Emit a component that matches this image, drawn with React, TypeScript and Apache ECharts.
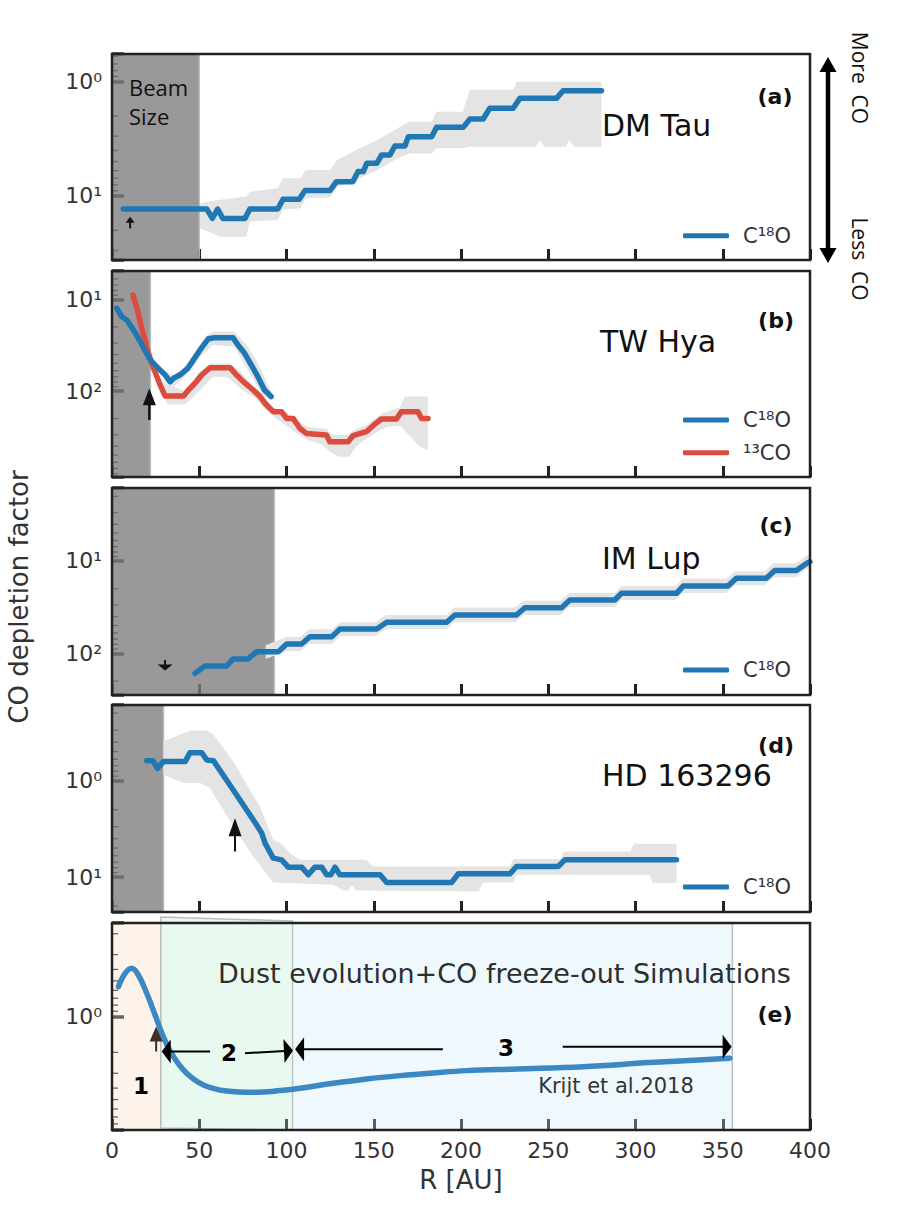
import React, { useEffect, useRef } from "react";
import * as echarts from "echarts";

// ---------------- data ----------------
const R_MIN = 0;
const R_MAX = 400;
const R_STEP = 50;

// (a) DM Tau  [R (AU), CO depletion factor]
const DMTAU_C18O = [[6.5,13.0],[54.3,13.0],[57.5,15.7],[60.5,13.0],[63.5,15.7],[76.2,15.7],[79,13.0],[95,13.0],[98,10.7],[107.3,10.7],[110.6,8.97],[124.9,8.97],[128.6,7.5],[138,7.5],[141,6.12],[144,6.12],[146,5.18],[151.7,5.18],[154.5,4.38],[159.3,4.38],[162.1,3.65],[167.9,3.65],[169.8,3.03],[183.2,3.03],[186,2.51],[201.3,2.51],[205.1,2.12],[212.7,2.12],[216.5,1.71],[229.9,1.71],[233.7,1.40],[254.7,1.40],[258.5,1.20],[280.5,1.20]];
const DMTAU_BAND_UP = [[50.5,11.6],[62,10.8],[77,10.1],[79,9.16],[95,8.57],[98,7.0],[108,7.0],[111,5.93],[125,5.93],[129,4.84],[140,3.96],[152,3.24],[162,2.65],[170,2.24],[183,2.24],[186,1.83],[201,1.83],[205,1.18],[230,1.18],[232,1.0],[280.5,1.0]];
const DMTAU_BAND_DN = [[50.5,19.2],[62,22.7],[77,22.7],[79,16.8],[95,16.2],[98,13.2],[108,12.8],[111,10.5],[125,10.3],[129,8.3],[140,7.24],[152,5.93],[162,4.84],[170,4.24],[183,4.24],[186,3.83],[201,3.83],[205,3.71],[243,3.71],[245,3.24],[248,3.71],[260,3.71],[262,3.24],[265,3.71],[280.5,3.71]];
const DMTAU_BEAM = 50;
const DMTAU_ARROW = [[10.4, 19.2, 10.4, 15.2]];

// (b) TW Hya
const TWHYA_C18O = [[2.7,12.5],[5.6,15.5],[8.5,16.8],[12.3,21.6],[16.2,29.0],[21.9,45.9],[26.6,56.6],[30.5,67.0],[33.3,79.1],[35.5,72],[38.8,67.0],[43.5,56.6],[47.3,44.0],[51.1,34.2],[55,27.1],[58.8,26.2],[69.3,26.2],[72.2,31.5],[76,38.8],[79.8,52.0],[83.6,69.8],[87.4,97.5],[91.2,115]];
const TWHYA_13CO = [[12,8.97],[14.3,12.5],[17.1,20.7],[20,34.2],[23.8,56.6],[27.6,86.1],[30.5,113.5],[41,113.5],[43.8,97.5],[47.6,82.4],[51.4,67.0],[56.2,55.7],[67.6,55.7],[71.4,67.0],[75.2,79.1],[80.9,97.5],[84.8,115],[87.6,136],[92.4,168],[97.1,168],[100,199],[103.8,199],[107.6,255],[111.4,290],[122.9,302],[124.8,357],[135.3,357],[138.1,307],[145.8,278],[149.6,239],[154.4,202],[163,202],[165.8,168],[175.4,168],[177.3,199],[181.1,199]];
const TWHYA_C18O_BAND_UP = [[30,60],[35,68],[40,58],[45,44],[50,33],[55,24],[58,22.5],[70,22.5],[74,27],[78,33],[82,44],[86,62],[91,100]];
const TWHYA_C18O_BAND_DN = [[30,82],[35,90],[40,75],[46,55],[52,40],[58,31.5],[70,33],[74,44],[78,60],[82,80],[86,110],[91,125]];
const TWHYA_13CO_BAND_UP = [[28,80],[42,100],[50,62],[56,50],[68,50],[74,62],[80,85],[86,105],[92,150],[100,170],[107,215],[112,245],[123,260],[126,300],[135,300],[140,260],[146,235],[150,205],[155,175],[165,150],[168,115],[181,115]];
const TWHYA_13CO_BAND_DN = [[28,100],[32,140],[42,140],[50,100],[58,70],[66,70],[74,95],[82,120],[88,160],[94,200],[100,240],[106,290],[112,340],[120,380],[125,460],[130,520],[136,520],[140,400],[146,330],[152,280],[158,245],[165,240],[170,300],[176,400],[181,440]];
const TWHYA_BEAM = 22;
const TWHYA_ARROW = [[21.4, 207, 21.4, 93.5]];

// (c) IM Lup
const IMLUP_C18O = [[47.6,165],[53.3,137],[65.7,137],[69.5,115],[78,115],[82.9,96],[95.3,96],[100.1,79.3],[108.6,79.3],[113.5,66.1],[125.9,66.1],[130.6,54.6],[151.7,54.6],[157.4,46.1],[191.8,46.1],[196.5,38.5],[231.8,38.5],[236.6,32.1],[257.6,32.1],[262.4,26.5],[288.1,26.5],[292,22.4],[323.5,22.4],[327.3,18.7],[353,18.7],[357.8,15.4],[375,15.4],[379.8,12.7],[392.2,12.7],[398.8,10.4],[400,10.2]];
const IMLUP_BAND_UP = [[88,82],[100,66],[108,66],[113,55],[126,55],[131,46],[151,46],[157,38.5],[192,38.5],[196,32],[231,32],[236,27],[257,27],[262,22.2],[288,22.2],[292,18.7],[323,18.7],[327,15.6],[352,15.6],[357,12.9],[374,12.9],[379,10.6],[392,10.6],[398,8.7],[400,8.6]];
const IMLUP_BAND_DN = [[88,115],[100,95],[108,95],[113,79],[126,79],[131,65],[151,65],[157,55],[192,55],[196,46],[231,46],[236,38.5],[257,38.5],[262,31.5],[288,31.5],[292,26.5],[323,26.5],[327,22.2],[352,22.2],[357,18.3],[374,18.3],[379,15],[392,15],[398,12.3],[400,12.2]];
const IMLUP_BEAM = 93;
const IMLUP_ARROW = [[30.4, 118, 30.4, 154]];

// (d) HD 163296
const HD_C18O = [[19.9,0.621],[23.4,0.621],[26,0.745],[29.5,0.635],[41.9,0.635],[44.7,0.513],[51.4,0.513],[54.3,0.611],[58.1,0.621],[69.5,1.25],[82.9,2.88],[85.8,3.5],[87.7,4.45],[92.4,6.35],[97.2,6.62],[101,7.89],[108.7,7.89],[112.5,9.46],[116.3,7.89],[120.2,7.89],[123,9.46],[125.4,9.46],[127.8,7.89],[130.6,9.46],[153.6,9.46],[157.4,11.4],[194.6,11.4],[198.4,9.25],[228,9.25],[231.8,7.76],[255.7,7.76],[259.5,6.62],[323.5,6.62]];
const HD_BAND_UP = [[29.5,0.394],[37,0.344],[44.7,0.303],[54.3,0.303],[58,0.33],[69.5,0.635],[75.2,0.944],[84.8,1.86],[92.4,4.11],[97.2,4.52],[101.9,5.65],[107.6,6.62],[145.8,6.62],[149.6,7.76],[228,7.76],[230,6.51],[257,6.51],[259,5.43],[297,5.43],[299,4.52],[323.5,4.52]];
const HD_BAND_DN = [[29.5,0.873],[41,1.06],[50.5,1.06],[56.2,1.2],[69.5,2.99],[80.9,6.12],[92.4,11.4],[126.8,12.0],[132.5,13.8],[135,13.8],[137.5,12.2],[140,13.8],[210,14.1],[212.7,11.4],[230,11.4],[231.8,9.46],[308,9.46],[310,11.5],[323.5,11.5]];
const HD_BEAM = 29.5;
const HD_ARROW = [[70.5, 5.43, 70.5, 2.45]];

// (e) simulation (Krijt et al. 2018)
const SIM_CURVE = [[3.7,0.558],[7.5,0.431],[11.3,0.391],[15.1,0.446],[19.9,0.635],[24.7,0.968],[29.4,1.47],[35.2,2.17],[42.8,3.0],[52.4,3.76],[65.7,4.23],[81,4.34],[96.3,4.2],[107.7,4.01],[126.8,3.64],[145.9,3.35],[165,3.14],[184,2.98],[203.2,2.85],[231.8,2.76],[270,2.64],[308,2.44],[354,2.24]];
const SIM_ZONES = [[0, 28], [28, 103.5], [103.5, 355.5]];
const SIM_UP_ARROW = [[25.3, 1.97, 25.3, 1.21]];
const SIM_ZONE_ARROWS = [[56.2,1.97,28.5,1.97],[76.2,2.03,103.7,1.93],[189.6,1.88,104.9,1.88],[258.3,1.79,355.1,1.79]];

// y ranges of the five panels (inverted log axes)
const Y_RANGES = [[0.573, 36.3], [4.91, 867], [1.62, 283], [0.1645, 23.0], [0.1625, 9.02]];
const MINOR_MANTISSAS = [2, 3, 4, 5, 6, 7, 8, 9];

// ---------------- layout / style ----------------
const LEFT = 112;
const WIDTH = 698;
const TOPS = [54, 271, 488, 705, 923];
const HEIGHTS = [206, 206, 207, 207, 207];
const BLUE = "#1f77b4";
const RED = "#dc4b3e";
const FONT = "DejaVu Sans";
const SUP: Record<number, string> = { 0: "\u2070", 1: "\u00b9", 2: "\u00b2", 3: "\u00b3" };
const ZONE_FILLS = ["rgba(248,215,185,0.3)", "rgba(178,238,205,0.3)", "rgba(202,232,248,0.3)"];

function minorValues(range: number[]) {
  const out: number[][] = [];
  const k0 = Math.floor(Math.log10(range[0]));
  const k1 = Math.ceil(Math.log10(range[1]));
  for (let k = k0; k <= k1; k++) {
    for (const m of MINOR_MANTISSAS) {
      const v = m * Math.pow(10, k);
      if (v > range[0] && v < range[1]) out.push([0, v]);
    }
  }
  return out;
}

function arrowChildren(p0: number[], p1: number[], L: number, W: number, lw: number, color: string) {
  const dx = p1[0] - p0[0];
  const dy = p1[1] - p0[1];
  const len = Math.hypot(dx, dy) || 1;
  const ux = dx / len, uy = dy / len;
  const bx = p1[0] - ux * L, by = p1[1] - uy * L;
  const nx = -uy, ny = ux;
  return [
    { type: "line", shape: { x1: p0[0], y1: p0[1], x2: bx + ux, y2: by + uy }, style: { stroke: color, lineWidth: lw } },
    {
      type: "polygon",
      shape: { points: [[p1[0], p1[1]], [bx + (nx * W) / 2, by + (ny * W) / 2], [bx - (nx * W) / 2, by - (ny * W) / 2]] },
      style: { fill: color },
    },
  ];
}

function arrowSeries(i: number, data: number[][], L: number, W: number, lw: number, color: string) {
  return {
    type: "custom", xAxisIndex: i, yAxisIndex: i, z: 4, silent: true, data,
    renderItem: (params: any, api: any) => {
      const p0 = api.coord([api.value(0), api.value(1)]);
      const p1 = api.coord([api.value(2), api.value(3)]);
      return { type: "group", children: arrowChildren(p0, p1, L, W, lw, color) };
    },
  };
}

function beamSeries(i: number, r: number) {
  return {
    type: "custom", xAxisIndex: i, yAxisIndex: i, z: 1, silent: true,
    data: [[r, Y_RANGES[i][0]]],
    renderItem: (params: any, api: any) => {
      const cs = params.coordSys;
      const p = api.coord([api.value(0), api.value(1)]);
      return {
        type: "group",
        children: [
          { type: "rect", shape: { x: cs.x, y: cs.y, width: p[0] - cs.x, height: cs.height }, style: { fill: "rgba(126,126,126,0.79)" } },
          { type: "line", shape: { x1: p[0], y1: cs.y, x2: p[0], y2: cs.y + cs.height }, style: { stroke: "rgba(185,185,185,0.9)", lineWidth: 1.5 } },
        ],
      };
    },
  };
}

function bandSeries(i: number, up: number[][], dn: number[][]) {
  return {
    type: "custom", xAxisIndex: i, yAxisIndex: i, z: 2, silent: true,
    data: [up[0]],
    renderItem: (params: any, api: any) => {
      const pts = up.map((p) => api.coord(p)).concat(dn.slice().reverse().map((p) => api.coord(p)));
      return { type: "polygon", shape: { points: pts }, style: { fill: "#e4e4e4" } };
    },
  };
}

function minorSeries(i: number) {
  return {
    type: "custom", xAxisIndex: i, yAxisIndex: i, z: 0, silent: true,
    data: minorValues(Y_RANGES[i]),
    renderItem: (params: any, api: any) => {
      const cs = params.coordSys;
      const p = api.coord([api.value(0), api.value(1)]);
      return { type: "line", shape: { x1: cs.x, y1: p[1], x2: cs.x + 6, y2: p[1] }, style: { stroke: "#333", lineWidth: 1.3 } };
    },
  };
}

function lineSeries(i: number, name: string, data: number[][], color: string, extra: any = {}) {
  return {
    type: "line", name, xAxisIndex: i, yAxisIndex: i, data, symbol: "none", z: 3, silent: true,
    lineStyle: { width: 5.5, color, cap: "round", join: "round" },
    itemStyle: { color },
    ...extra,
  };
}

function zoneSeries(i: number) {
  return {
    type: "custom", xAxisIndex: i, yAxisIndex: i, z: 1, silent: true, clip: false,
    data: SIM_ZONES.map((z) => [z[0], z[1], Y_RANGES[i][0]]),
    renderItem: (params: any, api: any) => {
      const cs = params.coordSys;
      const x0 = api.coord([api.value(0), api.value(2)])[0];
      const x1 = api.coord([api.value(1), api.value(2)])[0];
      const fill = ZONE_FILLS[params.dataIndex];
      const top = cs.y, bot = cs.y + cs.height;
      if (params.dataIndex === 1) {
        return {
          type: "polygon",
          shape: { points: [[x0, top - 6], [x1, top - 2], [x1, bot], [x0, bot - 2]] },
          style: { fill, stroke: "rgba(140,140,140,0.55)", lineWidth: 1.5 },
        };
      }
      const children: any[] = [{ type: "rect", shape: { x: x0, y: top, width: x1 - x0, height: cs.height }, style: { fill } }];
      if (params.dataIndex === 2) {
        children.push({ type: "line", shape: { x1, y1: top, x2: x1, y2: bot }, style: { stroke: "rgba(150,150,150,0.6)", lineWidth: 1.5 } });
      }
      return { type: "group", children };
    },
  };
}

function yLabel(v: number) {
  const l = Math.log10(v);
  const n = Math.round(l);
  if (Math.abs(l - n) > 1e-6) return "";
  return "10" + SUP[n];
}

function text(x: number, y: number, t: string, size: number, opts: any = {}) {
  return {
    type: "text", x, y, z: 100, rotation: opts.rotation || 0, silent: true,
    style: {
      text: t, fontSize: size, fontFamily: opts.family || FONT, fontWeight: opts.weight || "normal",
      fill: opts.fill || "#111", align: opts.align || "left", verticalAlign: "middle",
    },
  };
}

function buildOption() {
  const grids = TOPS.map((t, i) => ({ left: LEFT, top: t, width: WIDTH, height: HEIGHTS[i], show: false }));
  const xAxes = TOPS.map((t, i) => ({
    type: "value", gridIndex: i, min: R_MIN, max: R_MAX, interval: R_STEP,
    axisLine: { show: false }, splitLine: { show: false },
    axisTick: { inside: true, length: 11, lineStyle: { width: 3, color: "#222" } },
    axisLabel: { show: i === 4, fontSize: 22, fontFamily: FONT, color: "#333", margin: 9 },
  }));
  const yAxes = TOPS.map((t, i) => ({
    type: "log", logBase: 10, gridIndex: i, inverse: true, min: Y_RANGES[i][0], max: Y_RANGES[i][1],
    axisLine: { show: false }, splitLine: { show: false },
    axisTick: { inside: true, length: 12, lineStyle: { width: 3.5, color: "#333" } },
    axisLabel: { fontSize: 22, fontFamily: FONT, color: "#333", margin: 10, formatter: yLabel },
  }));

  const series: any[] = [];
  for (let i = 0; i < 5; i++) series.push(minorSeries(i));
  // (a)
  series.push(beamSeries(0, DMTAU_BEAM));
  series.push(bandSeries(0, DMTAU_BAND_UP, DMTAU_BAND_DN));
  series.push(lineSeries(0, "C\u00b9\u2078O", DMTAU_C18O, BLUE));
  series.push(arrowSeries(0, DMTAU_ARROW, 6, 9, 2, "#111"));
  // (b)
  series.push(beamSeries(1, TWHYA_BEAM));
  series.push(bandSeries(1, TWHYA_13CO_BAND_UP, TWHYA_13CO_BAND_DN));
  series.push(bandSeries(1, TWHYA_C18O_BAND_UP, TWHYA_C18O_BAND_DN));
  series.push(lineSeries(1, "\u00b9\u00b3CO", TWHYA_13CO, RED));
  series.push(lineSeries(1, "C\u00b9\u2078O", TWHYA_C18O, BLUE));
  series.push(arrowSeries(1, TWHYA_ARROW, 17, 13, 2.5, "#111"));
  // (c)
  series.push(beamSeries(2, IMLUP_BEAM));
  series.push(bandSeries(2, IMLUP_BAND_UP, IMLUP_BAND_DN));
  series.push(lineSeries(2, "C\u00b9\u2078O", IMLUP_C18O, BLUE));
  series.push(arrowSeries(2, IMLUP_ARROW, 6, 15, 2, "#111"));
  // (d)
  series.push(beamSeries(3, HD_BEAM));
  series.push(bandSeries(3, HD_BAND_UP, HD_BAND_DN));
  series.push(lineSeries(3, "C\u00b9\u2078O", HD_C18O, BLUE));
  series.push(arrowSeries(3, HD_ARROW, 18, 13, 2, "#111"));
  // (e)
  series.push(zoneSeries(4));
  series.push(lineSeries(4, "Krijt et al. 2018", SIM_CURVE, "#3b88c3", { smooth: 0.4, lineStyle: { width: 5.5, color: "#3b88c3", cap: "round" } }));
  series.push(arrowSeries(4, SIM_UP_ARROW, 15, 13, 2, "#3a302c"));
  series.push(arrowSeries(4, SIM_ZONE_ARROWS, 9, 24, 2, "#000"));

  const legendBase = {
    icon: "roundRect", itemWidth: 46, itemHeight: 5, selectedMode: false, orient: "vertical", itemGap: 8.7,
    textStyle: { fontSize: 21, fontFamily: FONT, color: "#333", lineHeight: 24, padding: [0, 0, 0, 9] },
  };
  const legend = [
    { ...legendBase, left: 678, top: 218.7, data: ["C\u00b9\u2078O"] },
    { ...legendBase, left: 678, top: 403, data: ["C\u00b9\u2078O", "\u00b9\u00b3CO"] },
    { ...legendBase, left: 678, top: 653, data: ["C\u00b9\u2078O"] },
    { ...legendBase, left: 678, top: 870, data: ["C\u00b9\u2078O"] },
  ];

  const frames = TOPS.map((t, i) => ({
    type: "rect", z: 100, silent: true,
    shape: { x: LEFT, y: t, width: WIDTH, height: HEIGHTS[i] },
    style: { fill: "none", stroke: "#222", lineWidth: 2.5 },
  }));

  const texts = [
    text(129, 87, "Beam", 22, { family: "Open Sans" }),
    text(129, 116, "Size", 22, { family: "Open Sans" }),
    text(775, 96, "(a)", 22, { weight: "bold", align: "center" }),
    text(602, 125, "DM Tau", 30),
    text(776, 320, "(b)", 22, { weight: "bold", align: "center" }),
    text(600, 341, "TW Hya", 30),
    text(776, 525, "(c)", 22, { weight: "bold", align: "center" }),
    text(602, 558, "IM Lup", 30),
    text(776, 745, "(d)", 22, { weight: "bold", align: "center" }),
    text(602, 775.5, "HD 163296", 30),
    text(775, 1014, "(e)", 22, { weight: "bold", align: "center" }),
    text(218, 973, "Dust evolution+CO freeze-out Simulations", 27, { fill: "#2b2f2d" }),
    text(616, 1086, "Krijt et al.2018", 21, { fill: "#333", align: "center" }),
    text(141, 1086, "1", 23, { weight: "bold", align: "center", fill: "#000" }),
    text(229, 1053, "2", 23, { weight: "bold", align: "center", fill: "#000" }),
    text(506, 1048, "3", 23, { weight: "bold", align: "center", fill: "#000" }),
    text(461, 1180, "R [AU]", 26, { fill: "#333", align: "center" }),
    text(19, 597, "CO depletion factor", 26, { fill: "#333", align: "center", rotation: Math.PI / 2 }),
    text(860, 78, "More  CO", 21, { family: "Open Sans", align: "center", rotation: -Math.PI / 2 }),
    text(860, 259, "Less  CO", 21, { family: "Open Sans", align: "center", rotation: -Math.PI / 2 }),
  ];

  const sideArrow = [
    { type: "line", z: 100, silent: true, shape: { x1: 828, y1: 70, x2: 828, y2: 250 }, style: { stroke: "#000", lineWidth: 4.5 } },
    { type: "polygon", z: 100, silent: true, shape: { points: [[828, 57], [819.5, 72], [836.5, 72]] }, style: { fill: "#000" } },
    { type: "polygon", z: 100, silent: true, shape: { points: [[828, 263], [819.5, 248], [836.5, 248]] }, style: { fill: "#000" } },
  ];

  return {
    animation: false,
    backgroundColor: "#ffffff",
    textStyle: { fontFamily: FONT },
    grid: grids,
    xAxis: xAxes,
    yAxis: yAxes,
    legend,
    series,
    graphic: { elements: [...frames, ...texts, ...sideArrow] },
  };
}

export default function App() {
  const ref = useRef<HTMLDivElement>(null);
  useEffect(() => {
    if (!ref.current) return;
    const chart = echarts.init(ref.current, undefined, { renderer: "svg" });
    chart.setOption(buildOption() as any);
    return () => chart.dispose();
  }, []);
  return <div ref={ref} style={{ position: "absolute", left: 0, top: 0, width: 900, height: 1228 }} />;
}
